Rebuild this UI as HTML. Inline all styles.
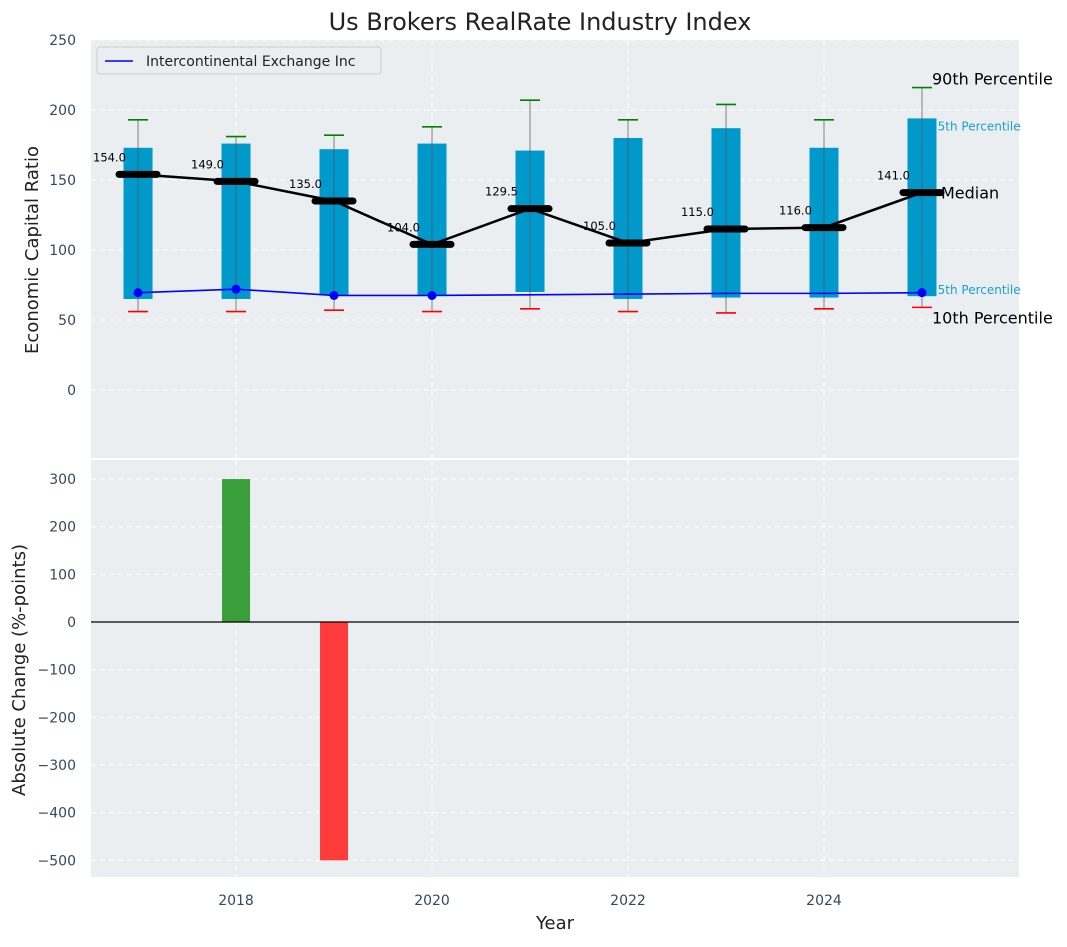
<!DOCTYPE html>
<html><head><meta charset="utf-8"><style>
body{margin:0;background:#fff;font-family:"Liberation Sans","DejaVu Sans",sans-serif}
svg text{font-family:"DejaVu Sans","Liberation Sans",sans-serif}
</style></head><body>
<svg id="c" width="1067" height="942" xmlns="http://www.w3.org/2000/svg"></svg>
<script>
const years=[2017,2018,2019,2020,2021,2022,2023,2024,2025];
const p10=[56,56,57,56,58,56,55,58,59];
const p25=[65,65,68,68,70,65,66,66,67];
const med=[154,149,135,104,129.5,105,115,116,141];
const p75=[173,176,172,176,171,180,187,173,194];
const p90=[193,181,182,188,207,193,204,193,216];
const ice=[69.5,72,67.5,67.5,68,68.5,69,69,69.5];
const iceDots=[true,true,true,true,false,false,false,false,true];
const chgYears=[2018,2019];
const chgVals=[300,-500];
const yTicksTop=[0,50,100,150,200,250];
const yTicksBot=[-500,-400,-300,-200,-100,0,100,200,300];
const xTicks=[2018,2020,2022,2024];

const NS="http://www.w3.org/2000/svg";
const svg=document.getElementById('c');
function el(t,a,txt){const e=document.createElementNS(NS,t);for(const k in a)e.setAttribute(k,a[k]);if(txt!==undefined)e.textContent=txt;svg.appendChild(e);return e;}
const L=91,R=1019;
const x=v=>L+(v-2016.52)/(2025.99-2016.52)*(R-L);
const T1=40,B1=458,y1=v=>B1-(v+48.6)/(250+48.6)*(B1-T1);
const T2=460,B2=877,y2=v=>B2-(v+535)/(340+535)*(B2-T2);

let e=el('rect',{x:L,y:T1,width:R-L,height:B1-T1,fill:'#eaeef0'});

e=el('rect',{x:L,y:T2,width:R-L,height:B2-T2,fill:'#eaeef0'});


yTicksTop.forEach(v=>{el('line',{x1:L,x2:R,y1:y1(v),y2:y1(v),stroke:'#fff','stroke-dasharray':'5,4','stroke-width':1});
 e=el('text',{x:76,y:y1(v)+5,'text-anchor':'end','font-size':14,fill:'#34495e'},v);
 });
yTicksBot.forEach(v=>{el('line',{x1:L,x2:R,y1:y2(v),y2:y2(v),stroke:'#fff','stroke-dasharray':'5,4','stroke-width':1});
 e=el('text',{x:76,y:y2(v)+5,'text-anchor':'end','font-size':14,fill:'#34495e'},(v<0?'\u2212'+(-v):v));
 });
xTicks.forEach(v=>{el('line',{x1:x(v),x2:x(v),y1:T1,y2:B1,stroke:'#fff','stroke-dasharray':'5,4'});
 el('line',{x1:x(v),x2:x(v),y1:T2,y2:B2,stroke:'#fff','stroke-dasharray':'5,4'});
 e=el('text',{x:x(v),y:905,'text-anchor':'middle','font-size':14,fill:'#34495e'},v);
 });

const lx=x(years[years.length-1]);
const n=years.length-1;
e=el('text',{x:lx+8,y:y1(p75[n])+12,'font-size':12,fill:'#1a9fcf'},'75th Percentile');
e=el('text',{x:lx+8,y:y1(p25[n])-2,'font-size':12,fill:'#1a9fcf'},'25th Percentile');

years.forEach((yr,i)=>{const cx=x(yr);
 e=el('rect',{x:cx-14.5,y:y1(p75[i]),width:29,height:y1(p25[i])-y1(p75[i]),fill:'#0099cc'});
 
 el('line',{x1:cx,x2:cx,y1:y1(p90[i]),y2:y1(p10[i]),stroke:'#555','stroke-opacity':0.6,'stroke-width':1.2});
 e=el('line',{x1:cx-10,x2:cx+10,y1:y1(p90[i]),y2:y1(p90[i]),stroke:'green','stroke-width':1.6});
 
 e=el('line',{x1:cx-10,x2:cx+10,y1:y1(p10[i]),y2:y1(p10[i]),stroke:'red','stroke-width':1.6});
 
});
e=el('polyline',{points:years.map((yr,i)=>x(yr)+','+y1(med[i])).join(' '),fill:'none',stroke:'#000','stroke-width':2.5});

years.forEach((yr,i)=>{const cx=x(yr);
 e=el('line',{x1:cx-19,x2:cx+19,y1:y1(med[i]),y2:y1(med[i]),stroke:'#000','stroke-width':7,'stroke-linecap':'round'});
 
 e=el('text',{x:cx-45,y:y1(med[i])-13,'font-size':11.5,fill:'#000'},med[i].toFixed(1));
 
});
e=el('polyline',{points:years.map((yr,i)=>x(yr)+','+y1(ice[i])).join(' '),fill:'none',stroke:'#0000ff','stroke-width':1.6});

years.forEach((yr,i)=>{if(iceDots[i]){e=el('circle',{cx:x(yr),cy:y1(ice[i]),r:4.5,fill:'#0000ff'});
 }});

e=el('text',{x:lx+10,y:y1(p90[n])-3,'font-size':16,fill:'#000'},'90th Percentile');
e=el('text',{x:lx+19,y:y1(med[n])+6,'font-size':16,fill:'#000'},'Median');
e=el('text',{x:lx+10,y:y1(p10[n])+16,'font-size':16,fill:'#000'},'10th Percentile');

e=el('rect',{x:97,y:47,width:284,height:27,rx:3,fill:'#eaeef0',stroke:'#ccc'});

el('line',{x1:105,x2:133,y1:61,y2:61,stroke:'#0000ff','stroke-width':1.6});
e=el('text',{x:146,y:66,'font-size':14,fill:'#222'},'Intercontinental Exchange Inc');


chgYears.forEach((yr,i)=>{const v=chgVals[i];
 e=el('rect',{x:x(yr)-14,y:y2(Math.max(v,0)),width:28,height:Math.abs(y2(v)-y2(0)),fill:v>=0?'#3a9e3a':'#ff3b3b'});
 });
el('line',{x1:L,x2:R,y1:y2(0),y2:y2(0),stroke:'#000','stroke-width':1.2});

e=el('text',{x:540,y:30,'text-anchor':'middle','font-size':24,fill:'#222'},'Us Brokers RealRate Industry Index');

e=el('text',{x:0,y:0,'text-anchor':'middle','font-size':18,fill:'#222',transform:'translate(38,250) rotate(-90)'},'Economic Capital Ratio');

e=el('text',{x:0,y:0,'text-anchor':'middle','font-size':18,fill:'#222',transform:'translate(25,670) rotate(-90)'},'Absolute Change (%-points)');

e=el('text',{x:555,y:929,'text-anchor':'middle','font-size':18,fill:'#222'},'Year');

</script>
</body></html>
